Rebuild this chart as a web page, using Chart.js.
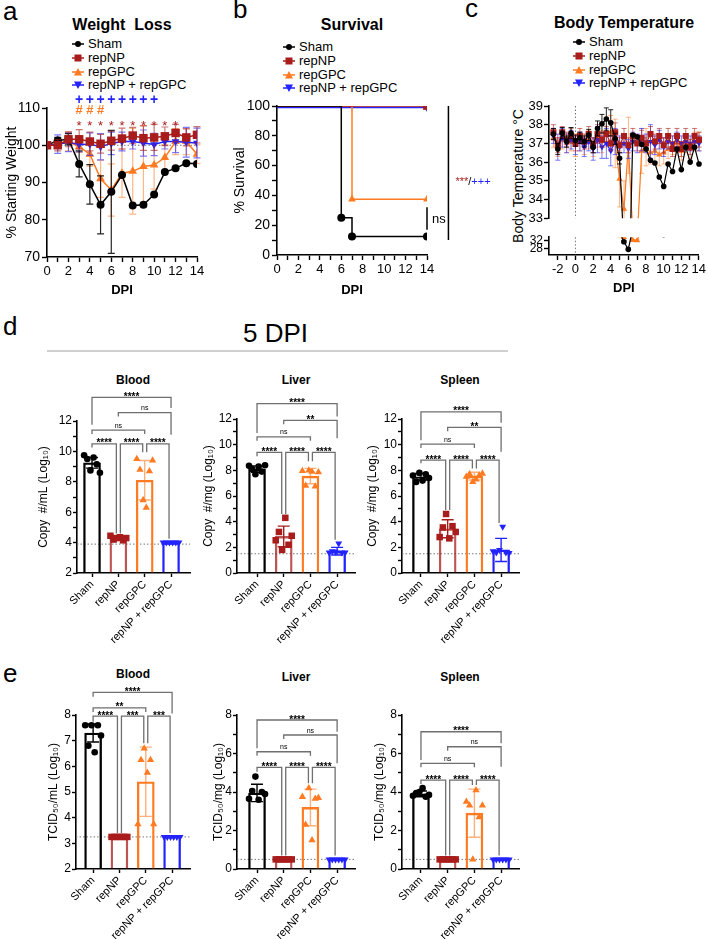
<!DOCTYPE html>
<html>
<head>
<meta charset="utf-8">
<script src="https://cdn.jsdelivr.net/npm/chart.js@4.4.1/dist/chart.umd.min.js"></script>
<style>
  body { margin: 0; width: 708px; height: 939px; position: relative; overflow: hidden; background: #fff;
         font-family: 'Liberation Sans', Arial, sans-serif; color: #000; }
  canvas { position: absolute; }
  .abs { position: absolute; line-height: 1; white-space: nowrap; }
  .panel { font-size: 26px; }
  .title { font-weight: bold; font-size: 16px; transform: translateX(-50%); }
  .sub { font-weight: bold; font-size: 12px; transform: translateX(-50%); }
  .legend { position: absolute; font-size: 13px; line-height: 13.8px; }
  .legend div { height: 13.8px; white-space: nowrap; }
  .legend svg { vertical-align: -1px; margin-right: 4px; }
  .rule { position: absolute; left: 47px; top: 350px; width: 461px; height: 2px; background: #cfcfcf; }
</style>
</head>
<body>
<div class="abs panel" style="left:3px;top:-2px">a</div>
<div class="abs panel" style="left:233px;top:-4px">b</div>
<div class="abs panel" style="left:465px;top:-5px">c</div>
<div class="abs panel" style="left:3px;top:313px">d</div>
<div class="abs panel" style="left:3px;top:660px">e</div>

<div class="abs title" style="left:122px;top:17px">Weight&nbsp; Loss</div>
<div class="abs title" style="left:352px;top:17px">Survival</div>
<div class="abs title" style="left:624px;top:15px">Body Temperature</div>

<div class="legend" id="legA" style="left:72px;top:37px"></div>
<div class="legend" id="legB" style="left:283px;top:40px"></div>
<div class="legend" id="legC" style="left:573px;top:35px"></div>

<div class="abs" style="left:518px;top:176px;font-size:14px;transform:translate(-50%,-50%) rotate(-90deg)">Body Temperature °C</div>

<div class="abs" style="left:243px;top:320px;font-size:26px">5 DPI</div>
<div class="rule"></div>

<div class="abs sub" style="left:133px;top:374px">Blood</div>
<div class="abs sub" style="left:296px;top:374px">Liver</div>
<div class="abs sub" style="left:460px;top:374px">Spleen</div>
<div class="abs sub" style="left:133px;top:668px">Blood</div>
<div class="abs sub" style="left:296px;top:671px">Liver</div>
<div class="abs sub" style="left:460px;top:671px">Spleen</div>

<script>
var groups = ['Sham', 'repNP', 'repGPC', 'repNP + repGPC'];
var colors = ['#000000', '#a81c1c', '#ff7a21', '#2323ff'];
var errColors = ['rgba(0,0,0,0.85)', 'rgba(168,28,28,0.6)', 'rgba(255,122,33,0.55)', 'rgba(35,35,255,0.6)'];

// a - weight loss (% of starting weight)
var wlDays = [0, 1, 2, 3, 4, 5, 6, 7, 8, 9, 10, 11, 12, 13, 14];
var wlSham = [100, 101.3, 101.6, 95, 89.5, 84, 87.5, 92, 83.8, 84, 86.8, 92.8, 93.8, 95.2, 95];
var wlShamSd = [0, 0.8, 1.5, 3.5, 5.3, 7.8, 16.5, 0, 0, 0, 0, 0, 0, 0, 0];
var wlNP = [100, 100, 101.6, 101.6, 101, 100.4, 101.2, 101.8, 102.6, 101.9, 102.1, 102.4, 103.3, 102.1, 102.8];
var wlNPSd = [0, 1.5, 2, 2.6, 2.5, 2.5, 2.5, 2.8, 2.2, 3.3, 3.5, 2.5, 2.3, 2.3, 2.2];
var wlGPC = [100, 100.3, 101, 99.6, 97.6, 91, 88, 92.5, 93, 94.3, 94.7, 96.7, 101, 101, 97.6];
var wlGPCSd = [0, 1, 2.5, 1.5, 3.2, 5, 7, 6.5, 11.5, 11, 6.5, 3.5, 3.5, 3.5, 2.5];
var wlCombo = [100, 100.3, 100.8, 100.2, 100.3, 99.6, 100.5, 101, 101, 100.6, 100.2, 101, 101, 100.8, 100.6];
var wlComboSd = [0, 2.5, 2.5, 2, 3, 3.5, 3, 2.5, 2, 3.5, 3, 2, 3, 4, 4];
var plusDays = [3, 4, 5, 6, 7, 8, 9, 10];
var hashDays = [3, 4, 5];
var starDays = [3, 4, 5, 6, 7, 8, 9, 10, 11, 12];

// b - survival (%)
var svShamDays = [0, 6, 7, 14];
var svSham = [100, 25, 12.5, 12.5];
var svNPDays = [0, 14];
var svNP = [100, 100];
var svGPCDays = [0, 7, 14];
var svGPC = [100, 37.5, 37.5];
var svComboDays = [0, 14];
var svCombo = [99, 99];

// c - body temperature (°C), twice daily
var tDays = [-2.5, -2, -1.5, -1, -0.5, 0, 0.5, 1, 1.5, 2, 2.5, 3, 3.5, 4, 4.5, 5, 5.5,
             6, 6.5, 7, 7.5, 8, 8.5, 9, 9.5, 10, 10.5, 11, 11.5, 12, 12.5, 13, 13.5, 14];
var tSham = [37.5, 36.7, 37.55, 37.1, 37.55, 37.15, 37.3, 37.1, 37.45, 36.8, 37.8, 38.05, 38.3, 38.1, 37.25, 36.2, 31.3,
             27.7, 37.45, 37.35, 36.95, 36.7, 36.1, 35.95, 35.2, 34.7, 35.9, 35.5, 36.7, 35.6, 36.8, 36.0, 36.8, 35.9];
var tShamSd = [0.3, 0.3, 0.3, 0.3, 0.3, 0.3, 0.3, 0.3, 0.3, 0.3, 0.4, 0.5, 0.6, 0.7, 0.3, 0.3, 0.5,
               0.6, 0, 0, 0, 0, 0, 0, 0, 0, 0, 0, 0, 0, 0, 0, 0, 0];
var tNP = [37.6, 36.9, 37.6, 37.2, 37.4, 37.0, 37.4, 37.1, 37.5, 36.9, 37.5, 37.2, 37.5, 37.0, 37.6, 36.9, 37.4,
           36.9, 37.4, 37.0, 37.3, 37.0, 37.5, 37.1, 37.4, 36.9, 37.4, 36.7, 37.4, 36.7, 37.4, 36.8, 37.4, 37.2];
var tNPSd = [0.4, 0.4, 0.3, 0.4, 0.4, 0.4, 0.4, 0.4, 0.4, 0.4, 0.5, 0.4, 0.4, 0.4, 0.5, 0.4, 0.4,
             0.4, 0.4, 0.4, 0.4, 0.3, 0.4, 0.4, 0.4, 0.4, 0.4, 0.4, 0.4, 0.4, 0.4, 0.4, 0.4, 0.4];
var tGPC = [37.3, 36.8, 37.2, 37.0, 37.1, 36.9, 37.1, 36.9, 37.2, 36.8, 37.3, 37.1, 37.6, 37.6, 37.0, 35.1, 33.5,
            36.9, 32.1, 31.9, 36.6, 36.8, 36.5, 36.6, 36.4, 36.5, 36.7, 36.9, 37.0, 36.6, 37.0, 36.7, 37.1, 37.1];
var tGPCSd = [0.5, 0.5, 0.5, 0.5, 0.5, 0.6, 0.5, 0.5, 0.5, 0.5, 0.5, 0.6, 0.8, 0.9, 1.3, 1.5, 1.5,
              1.5, 0.4, 0.4, 1.2, 1.0, 0.6, 0.6, 0.6, 0.6, 0.5, 0.5, 0.5, 0.5, 0.5, 0.5, 0.5, 0.5];
var tCombo = [37.4, 36.8, 37.3, 37.0, 37.2, 36.9, 37.1, 36.8, 37.1, 36.7, 37.2, 36.8, 37.0, 36.6, 37.1, 36.8, 37.0,
              36.7, 37.1, 37.0, 37.2, 37.0, 37.1, 36.9, 37.2, 36.8, 37.1, 37.0, 37.2, 37.0, 37.1, 37.0, 37.1, 37.0];
var tComboSd = [0.4, 0.7, 0.5, 0.5, 0.5, 0.5, 0.5, 0.5, 0.5, 0.6, 0.7, 0.6, 0.8, 0.8, 0.7, 0.6, 0.5,
                0.5, 0.5, 0.5, 0.6, 0.5, 0.9, 0.5, 0.5, 0.5, 0.4, 0.4, 0.4, 0.4, 0.4, 0.4, 0.4, 0.4];

// d - viral RNA copies at 5 DPI (log10)
var dBloodMean = [9.25, 4.3, 8.1, 4.0];
var dBloodSd = [0.35, 0.15, 1.3, 0.05];
var dBloodPts = [[9.75, 9.5, 8.75, 9.6, 9.15, 8.6], [4.45, 4.2, 4.3, 4.35, 4.15, 4.3],
                 [9.5, 8.8, 6.8, 6.3, 8.7, 9.4], [4.0, 4.0, 4.0, 4.0, 4.0, 4.0]];
var dBloodLod = 3.9;
var dBloodBrk = [[0, 1, 10.5, 10.25, 4.6, '****'], [1, 2, 10.5, 4.6, 9.95, '****'], [2, 3, 10.5, 9.95, 4.25, '****'],
                 [0, 2, 11.4, 11.15, 11.15, 'ns'], [1, 3, 12.55, 12.3, 11.1, 'ns'], [0, 3, 13.55, 11.75, 12.85, '****']];

var dLiverMean = [8.1, 2.85, 7.55, 1.7];
var dLiverSd = [0.25, 0.8, 0.6, 0.3];
var dLiverPts = [[8.35, 8.1, 7.7, 8.3, 7.9, 8.4], [2.55, 3.2, 1.8, 4.3, 2.2, 2.9],
                 [7.95, 6.8, 8.0, 7.9, 6.75, 7.85], [1.6, 1.7, 1.65, 2.3, 1.6, 1.6]];
var dLiverLod = 1.5;
var dLiverBrk = [[0, 1, 9.4, 9.1, 4.6, '****'], [1, 2, 9.4, 4.6, 8.7, '****'], [2, 3, 9.4, 8.7, 2.6, '****'],
                 [0, 2, 10.6, 10.3, 10.3, 'ns'], [1, 3, 11.9, 11.6, 10.5, '**'], [0, 3, 13.2, 10.9, 12.2, '****']];

var dSpleenMean = [7.5, 3.45, 7.55, 1.8];
var dSpleenSd = [0.25, 0.7, 0.3, 0.9];
var dSpleenPts = [[7.6, 7.1, 7.8, 7.2, 7.7, 7.4], [2.8, 3.55, 4.6, 2.7, 3.65, 3.2],
                  [7.5, 7.7, 7.1, 7.3, 7.6, 7.75], [1.7, 1.6, 1.8, 3.6, 1.6, 1.55]];
var dSpleenLod = 1.5;
var dSpleenBrk = [[0, 1, 8.8, 8.55, 4.9, '****'], [1, 2, 8.8, 4.9, 8.15, '****'], [2, 3, 8.8, 8.15, 3.9, '****'],
                  [0, 2, 10.05, 9.75, 9.75, 'ns'], [1, 3, 11.35, 11.05, 9.45, '**'], [0, 3, 12.55, 10.35, 11.7, '****']];

// e - infectious virus at 5 DPI (log10 TCID50)
var eBloodMean = [7.3, 3.3, 5.4, 3.3];
var eBloodSd = [0.35, 0, 1.35, 0];
var eBloodPts = [[7.6, 6.8, 7.6, 6.55, 7.6, 7.2], [3.25, 3.25, 3.25, 3.25, 3.25, 3.25],
                 [3.75, 6.25, 6.7, 5.75, 6.25, 3.75], [3.25, 3.25, 3.25, 3.25, 3.25, 3.25]];
var eBloodLod = 3.25;
var eBloodBrk = [[0, 1, 7.96, 7.74, 3.4, '****'], [1, 2, 7.96, 3.4, 6.9, '***'], [2, 3, 7.96, 6.9, 3.4, '***'],
                 [0, 2, 8.28, 8.12, 8.12, '**'], [0, 3, 8.88, 8.71, 8.06, '****']];

var eLiverMean = [3.95, 0.55, 3.2, 0.55];
var eLiverSd = [0.45, 0, 0.95, 0];
var eLiverPts = [[3.65, 4.05, 4.8, 3.6, 4.0, 3.9], [0.5, 0.5, 0.5, 0.5, 0.5, 0.5],
                 [3.75, 2.3, 4.2, 1.5, 3.65, 3.7], [0.5, 0.5, 0.5, 0.5, 0.5, 0.5]];
var eLiverLod = 0.5;
var eLiverBrk = [[0, 1, 5.28, 5.05, 0.7, '****'], [1, 2, 5.28, 0.7, 4.45, '****'], [2, 3, 5.28, 4.45, 0.7, '****'],
                 [0, 2, 6.09, 5.88, 5.88, 'ns'], [1, 3, 6.96, 6.75, 5.5, 'ns'], [0, 3, 7.74, 6.27, 7.13, '****']];

var eSpleenMean = [3.9, 0.55, 2.9, 0.55];
var eSpleenSd = [0.15, 0, 1.25, 0];
var eSpleenPts = [[3.8, 3.95, 4.0, 4.2, 3.75, 3.85], [0.5, 0.5, 0.5, 0.5, 0.5, 0.5],
                  [3.5, 3.3, 0.5, 4.1, 2.7, 3.3], [0.5, 0.5, 0.5, 0.5, 0.5, 0.5]];
var eSpleenLod = 0.5;
var eSpleenBrk = [[0, 1, 4.62, 4.42, 0.7, '****'], [1, 2, 4.62, 0.7, 4.36, '****'], [2, 3, 4.62, 4.36, 0.7, '****'],
                  [0, 2, 5.49, 5.28, 5.28, 'ns'], [1, 3, 6.35, 6.14, 5.31, 'ns'], [0, 3, 7.13, 5.66, 6.53, '****']];

var dayTicks = [0, 1, 2, 3, 4, 5, 6, 7, 8, 9, 10, 11, 12, 13, 14];
var tempTicks = [-2, -1, 0, 1, 2, 3, 4, 5, 6, 7, 8, 9, 10, 11, 12, 13, 14];

// ---------------------------------------------------------------
var FONT = "'Liberation Sans', Arial, sans-serif";
Chart.defaults.font.family = FONT;
Chart.defaults.color = '#000';

var shapes = ['circle', 'rect', 'triangle', 'triangle'];
var turns = [0, 0, 0, 180];
var spread = [-0.3, -0.18, -0.06, 0.06, 0.18, 0.3];

function legend(id) {
  var el = document.getElementById(id);
  groups.forEach(function (g, i) {
    var c = colors[i], m;
    if (i === 0) m = '<circle cx="6" cy="5" r="3" fill="' + c + '"/>';
    else if (i === 1) m = '<rect x="2.5" y="1.5" width="7" height="7" fill="' + c + '"/>';
    else if (i === 2) m = '<polygon points="6,1 10,8.5 2,8.5" fill="' + c + '"/>';
    else m = '<polygon points="2,1.5 10,1.5 6,9" fill="' + c + '"/>';
    var row = document.createElement('div');
    row.innerHTML = '<svg width="12" height="10"><line x1="0" y1="5" x2="12" y2="5" stroke="' + c +
      '" stroke-width="1.5"/>' + m + '</svg><span>' + g + '</span>';
    el.appendChild(row);
  });
}
legend('legA'); legend('legB'); legend('legC');

function canvasAt(left, top, w, h) {
  var c = document.createElement('canvas');
  c.width = w; c.height = h;
  c.style.left = left + 'px'; c.style.top = top + 'px';
  c.style.width = w + 'px'; c.style.height = h + 'px';
  document.body.appendChild(c);
  return c;
}

function merge(a, b) {
  for (var k in b) {
    var v = b[k];
    if (v && typeof v === 'object' && !Array.isArray(v)) a[k] = merge(a[k] && typeof a[k] === 'object' ? a[k] : {}, v);
    else a[k] = v;
  }
  return a;
}

function axis(size, extra) {
  return merge({
    type: 'linear', offset: false,
    border: { color: '#000', width: 1.6 },
    grid: { drawOnChartArea: false, drawTicks: true, tickLength: 5, tickColor: '#000', tickWidth: 1.4, offset: false },
    ticks: { color: '#000', font: { size: size }, padding: 2, autoSkip: false, maxRotation: 0, minRotation: 0, includeBounds: false },
    title: { display: false }
  }, extra || {});
}

function fixed(list) { return function (s) { s.ticks = list.map(function (v) { return { value: v }; }); }; }
function wide(w) { return function (s) { s.width = w; }; }
function tall(h) { return function (s) { s.height = h; }; }
function everyOther(v) { return v % 2 === 0 ? String(v) : ''; }
function pt(xs, ys) { return xs.map(function (x, i) { return { x: x, y: ys[i] }; }); }

function options(pad, xs, ys) {
  return {
    responsive: false, devicePixelRatio: 1, animation: false,
    layout: { padding: pad },
    plugins: { legend: { display: false }, tooltip: { enabled: false } },
    scales: { x: xs, y: ys }
  };
}

// error bars, drawn right after the dataset they belong to
Chart.register({
  id: 'errorBars',
  afterDatasetDraw: function (chart, args) {
    var ds = chart.data.datasets[args.index];
    if (!ds.errors) return;
    var ctx = chart.ctx, ys = chart.scales.y, a = chart.chartArea;
    ctx.save();
    if (ds.errClip) { ctx.beginPath(); ctx.rect(a.left - 6, a.top, a.right - a.left + 12, a.bottom - a.top); ctx.clip(); }
    args.meta.data.forEach(function (el, k) {
      var e = ds.errors[k];
      if (!e) return;
      var v = ds.data[k]; v = typeof v === 'object' ? v.y : v;
      var hi = ys.getPixelForValue(v + e), lo = ys.getPixelForValue(v - e), cap = ds.errCap || 3;
      ctx.strokeStyle = Array.isArray(ds.errColor) ? ds.errColor[k] : ds.errColor;
      ctx.lineWidth = ds.errWidth || 1.2;
      ctx.beginPath();
      ctx.moveTo(el.x, hi); ctx.lineTo(el.x, lo);
      ctx.moveTo(el.x - cap, hi); ctx.lineTo(el.x + cap, hi);
      ctx.moveTo(el.x - cap, lo); ctx.lineTo(el.x + cap, lo);
      ctx.stroke();
    });
    ctx.restore();
  }
});

// dotted guide lines across the plot area
function guides(xv, yv) {
  return {
    id: 'guides',
    beforeDatasetsDraw: function (chart) {
      var ctx = chart.ctx, a = chart.chartArea;
      ctx.save();
      ctx.strokeStyle = '#777'; ctx.lineWidth = 1; ctx.setLineDash([1.5, 2]);
      ctx.beginPath();
      if (xv !== null) { var x = chart.scales.x.getPixelForValue(xv); ctx.moveTo(x, a.top); ctx.lineTo(x, a.bottom); }
      if (yv !== null) { var y = chart.scales.y.getPixelForValue(yv); ctx.moveTo(a.left, y); ctx.lineTo(a.right, y); }
      ctx.stroke();
      ctx.restore();
    }
  };
}

function brackets(list) {
  return {
    id: 'brackets',
    afterDraw: function (chart) {
      var ctx = chart.ctx, xs = chart.scales.x, ys = chart.scales.y;
      ctx.save();
      ctx.strokeStyle = '#6f6f6f'; ctx.lineWidth = 1.3; ctx.fillStyle = '#000'; ctx.textAlign = 'center';
      list.forEach(function (b) {
        var inset = b[1] - b[0] === 1 ? 2 : 0;
        var x1 = xs.getPixelForValue(b[0]) + (b[0] === 0 ? 0 : inset);
        var x2 = xs.getPixelForValue(b[1]) - inset;
        var y = ys.getPixelForValue(b[2]);
        ctx.beginPath();
        ctx.moveTo(x1, ys.getPixelForValue(b[3])); ctx.lineTo(x1, y);
        ctx.lineTo(x2, y); ctx.lineTo(x2, ys.getPixelForValue(b[4]));
        ctx.stroke();
        if (b[5] === 'ns') { ctx.font = '7px ' + FONT; ctx.fillText('ns', (x1 + x2) / 2, y - 2.5); }
        else { ctx.font = 'bold 10px ' + FONT; ctx.fillText(b[5], (x1 + x2) / 2, y + 2.5); }
      });
      ctx.restore();
    }
  };
}

function lineSet(i, data, err, radii, extra) {
  return merge({
    data: data, borderColor: colors[i], backgroundColor: colors[i], borderWidth: 1.5,
    pointStyle: shapes[i], pointRotation: turns[i], pointRadius: radii[i], pointBorderWidth: 0,
    errors: err, errColor: errColors[i], errCap: 3.5
  }, extra || {});
}

// ---------------- a: weight loss ----------------
var rA = [4, 6, 5, 4.5];
var weightMarks = {
  id: 'weightMarks',
  afterDraw: function (chart) {
    var ctx = chart.ctx, xs = chart.scales.x, ys = chart.scales.y;
    ctx.save(); ctx.textAlign = 'center'; ctx.textBaseline = 'middle';
    ctx.font = 'bold 14px ' + FONT; ctx.fillStyle = colors[3];
    plusDays.forEach(function (d) { ctx.fillText('+', xs.getPixelForValue(d), ys.getPixelForValue(112.1)); });
    ctx.font = 'bold 13px ' + FONT; ctx.fillStyle = colors[2];
    hashDays.forEach(function (d) { ctx.fillText('#', xs.getPixelForValue(d), ys.getPixelForValue(109.4)); });
    ctx.font = '13px ' + FONT; ctx.fillStyle = colors[1];
    starDays.forEach(function (d) { ctx.fillText('*', xs.getPixelForValue(d), ys.getPixelForValue(105.9) + 3); });
    ctx.restore();
  }
};
new Chart(canvasAt(0, 90, 210, 212), {
  type: 'line',
  data: { datasets: [
    lineSet(1, pt(wlDays, wlNP), wlNPSd, rA),
    lineSet(0, pt(wlDays, wlSham), wlShamSd, rA),
    lineSet(3, pt(wlDays, wlCombo), wlComboSd, rA),
    lineSet(2, pt(wlDays, wlGPC), wlGPCSd, rA)
  ] },
  options: options({ left: 0, top: 18, right: 13, bottom: 0 },
    axis(13, { min: 0, max: 14, afterBuildTicks: fixed(dayTicks), afterFit: tall(45),
      ticks: { callback: everyOther },
      title: { display: true, text: 'DPI', font: { size: 13, weight: 'bold' }, padding: { top: 2, bottom: 4 } } }),
    axis(14, { min: 70, max: 110, afterBuildTicks: fixed([70, 80, 90, 100, 110]), afterFit: wide(47),
      title: { display: true, text: '% Starting Weight', font: { size: 14 }, padding: 4 } })),
  plugins: [guides(null, 100), weightMarks]
});

// ---------------- b: survival ----------------
var rB = [4, 5.5, 4.5, 4.5];
function firstHidden(r) { return function (c) { return c.dataIndex === 0 ? 0 : r; }; }
var survivalMarks = {
  id: 'survivalMarks',
  afterDraw: function (chart) {
    var ctx = chart.ctx, xs = chart.scales.x, ys = chart.scales.y;
    ctx.save(); ctx.strokeStyle = '#000'; ctx.lineWidth = 1.5;
    var xb = xs.getPixelForValue(16), xn = xs.getPixelForValue(14);
    ctx.beginPath();
    ctx.moveTo(xb, ys.getPixelForValue(100)); ctx.lineTo(xb, ys.getPixelForValue(10));
    ctx.moveTo(xn, ys.getPixelForValue(32)); ctx.lineTo(xn, ys.getPixelForValue(17));
    ctx.stroke();
    ctx.textBaseline = 'middle'; ctx.textAlign = 'left';
    ctx.font = '13px ' + FONT; ctx.fillStyle = '#000';
    ctx.fillText('ns', xn + 5, ys.getPixelForValue(24));
    ctx.font = '11px ' + FONT;
    var tx = xb + 7, ty = ys.getPixelForValue(49);
    ctx.fillStyle = colors[1]; ctx.fillText('***', tx, ty); tx += ctx.measureText('***').width;
    ctx.fillStyle = '#000'; ctx.fillText('/', tx, ty); tx += ctx.measureText('/').width;
    ctx.fillStyle = colors[3]; ctx.fillText('+++', tx, ty);
    ctx.restore();
  }
};
function survSet(i, days, vals) {
  return lineSet(i, pt(days, vals), null, rB, { stepped: 'before', pointRadius: firstHidden(rB[i]) });
}
new Chart(canvasAt(228, 90, 282, 212), {
  type: 'line',
  data: { datasets: [
    survSet(0, svShamDays, svSham),
    survSet(1, svNPDays, svNP),
    survSet(2, svGPCDays, svGPC),
    survSet(3, svComboDays, svCombo)
  ] },
  options: options({ left: 0, top: 16, right: 83, bottom: 0 },
    axis(13, { min: 0, max: 14, afterBuildTicks: fixed(dayTicks), afterFit: tall(47),
      ticks: { callback: everyOther },
      title: { display: true, text: 'DPI', font: { size: 13, weight: 'bold' }, padding: { top: 2, bottom: 4 } } }),
    axis(14, { min: 0, max: 100, afterBuildTicks: fixed([0, 10, 20, 30, 40, 50, 60, 70, 80, 90, 100]), afterFit: wide(49),
      ticks: { callback: function (v) { return v % 20 === 0 ? String(v) : ''; } },
      title: { display: true, text: '% Survival', font: { size: 14 }, padding: 4 } })),
  plugins: [survivalMarks]
});

// ---------------- c: body temperature (broken axis: two stacked plots) ----------------
var rC = [2.8, 4.3, 3.6, 3.3];
function tempSets(clip) {
  var ex = { borderWidth: 1.2, clip: clip, errClip: true, errCap: 2.5, errWidth: 1 };
  return [
    lineSet(0, pt(tDays, tSham), tShamSd, rC, ex),
    lineSet(1, pt(tDays, tNP), tNPSd, rC, ex),
    lineSet(3, pt(tDays, tCombo), tComboSd, rC, ex),
    lineSet(2, pt(tDays, tGPC), tGPCSd, rC, ex)
  ];
}
new Chart(canvasAt(510, 90, 198, 137), {
  type: 'line',
  data: { datasets: tempSets({ left: 6, top: 6, right: 6, bottom: 0 }) },
  options: options({ left: 0, top: 16, right: 9, bottom: 0 },
    axis(13, { display: false, min: -3, max: 14 }),
    axis(13, { min: 33, max: 39, afterBuildTicks: fixed([33, 34, 35, 36, 37, 38, 39]), afterFit: wide(39),
      ticks: { padding: 1 } })),
  plugins: [guides(0, null)]
});
new Chart(canvasAt(510, 229, 198, 71), {
  type: 'line',
  data: { datasets: tempSets({ left: 6, top: 0, right: 6, bottom: 0 }) },
  options: options({ left: 0, top: 3, right: 9, bottom: 0 },
    axis(13, { min: -3, max: 14, afterBuildTicks: fixed(tempTicks), afterFit: tall(45),
      ticks: { callback: everyOther },
      title: { display: true, text: 'DPI', font: { size: 13, weight: 'bold' }, padding: { top: 2, bottom: 4 } } }),
    axis(12, { min: 25, max: 33.5, afterBuildTicks: fixed([28, 32]), afterFit: wide(39),
      ticks: { padding: 1 } })),
  plugins: [guides(0, null)]
});

// ---------------- d / e: bar + scatter panels ----------------
var barEdges = ['#000000', 'rgba(168,28,28,0.75)', '#ff7a21', '#2323ff'];
var barErr = ['#000000', '#a81c1c', 'rgba(255,122,33,0.6)', '#2323ff'];
var rBar = [3.3, 4.6, 4.2, 4];

function barPanel(p) {
  var sets = [{
    type: 'bar', data: pt([0, 1, 2, 3], p.mean), base: p.ymin, order: 2,
    backgroundColor: 'rgba(255,255,255,0)', borderColor: barEdges, borderWidth: 1.7, barThickness: 17,
    errors: p.sd, errColor: barErr, errCap: 6, errWidth: 1.4
  }];
  p.pts.forEach(function (vals, i) {
    sets.push({
      type: 'scatter', order: 1,
      data: vals.map(function (v, k) { return { x: i + spread[k], y: v }; }),
      pointStyle: shapes[i], rotation: turns[i], pointRadius: rBar[i], pointBorderWidth: 0,
      backgroundColor: colors[i], borderColor: colors[i]
    });
  });
  var minor = [];
  for (var v = p.ymin; v <= p.ymax; v++) minor.push(v);
  new Chart(canvasAt(p.left, p.top, p.w, p.h), {
    type: 'bar',
    data: { datasets: sets },
    options: options({ left: 0, top: p.padTop, right: p.padRight, bottom: 0 },
      axis(11, { min: p.xmin, max: p.xmax, afterBuildTicks: fixed([0, 1, 2, 3]), afterFit: tall(p.xh),
        grid: { tickLength: 4 },
        ticks: { minRotation: 45, maxRotation: 45, padding: 1, callback: function (v) { return groups[v]; } } }),
      axis(12, { min: p.ymin, max: p.ymax, afterBuildTicks: fixed(minor), afterFit: wide(p.yw),
        grid: { tickLength: 4 },
        ticks: { padding: 1, callback: p.every ? function (v) { return String(v); } : everyOther },
        title: { display: true, text: p.title, font: { size: p.tsize || 12 }, padding: 0 } })),
    plugins: [guides(null, p.lod), brackets(p.brk)]
  });
}

var copyMl = 'Copy  #/mL (Log\u2081\u2080)';
var copyMg = 'Copy  #/mg (Log\u2081\u2080)';
barPanel({ left: 36, top: 370, w: 167, h: 290, yw: 41, xh: 87, padTop: 51, padRight: 13, xmin: -0.57, xmax: 3.72,
  ymin: 2, ymax: 12, title: copyMl, mean: dBloodMean, sd: dBloodSd, pts: dBloodPts, lod: dBloodLod, brk: dBloodBrk });
barPanel({ left: 201, top: 370, w: 165, h: 290, yw: 36, xh: 87, padTop: 49, padRight: 11, xmin: -0.75, xmax: 3.67,
  ymin: 0, ymax: 12, title: copyMg, mean: dLiverMean, sd: dLiverSd, pts: dLiverPts, lod: dLiverLod, brk: dLiverBrk });
barPanel({ left: 365, top: 370, w: 165, h: 290, yw: 37, xh: 87, padTop: 49, padRight: 11, xmin: -0.71, xmax: 3.67,
  ymin: 0, ymax: 12, title: copyMg, mean: dSpleenMean, sd: dSpleenSd, pts: dSpleenPts, lod: dSpleenLod, brk: dSpleenBrk });

var tcidMl = 'TCID\u2085\u2080/mL (Log\u2081\u2080)';
var tcidMg = 'TCID\u2085\u2080/mg (Log\u2081\u2080)';
barPanel({ left: 46, top: 665, w: 157, h: 274, yw: 30, xh: 70, padTop: 50, padRight: 13, xmin: -0.65, xmax: 3.68,
  ymin: 2, ymax: 8, every: true, title: tcidMl, mean: eBloodMean, sd: eBloodSd, pts: eBloodPts, lod: eBloodLod, brk: eBloodBrk });
barPanel({ left: 211, top: 665, w: 156, h: 274, yw: 26, xh: 70, padTop: 50, padRight: 12, xmin: -0.75, xmax: 3.67,
  ymin: 0, ymax: 8, title: tcidMg, mean: eLiverMean, sd: eLiverSd, pts: eLiverPts, lod: eLiverLod, brk: eLiverBrk });
barPanel({ left: 372, top: 665, w: 159, h: 274, yw: 30, xh: 70, padTop: 50, padRight: 12, xmin: -0.71, xmax: 3.67,
  ymin: 0, ymax: 8, title: tcidMg, mean: eSpleenMean, sd: eSpleenSd, pts: eSpleenPts, lod: eSpleenLod, brk: eSpleenBrk });
</script>
</body>
</html>
